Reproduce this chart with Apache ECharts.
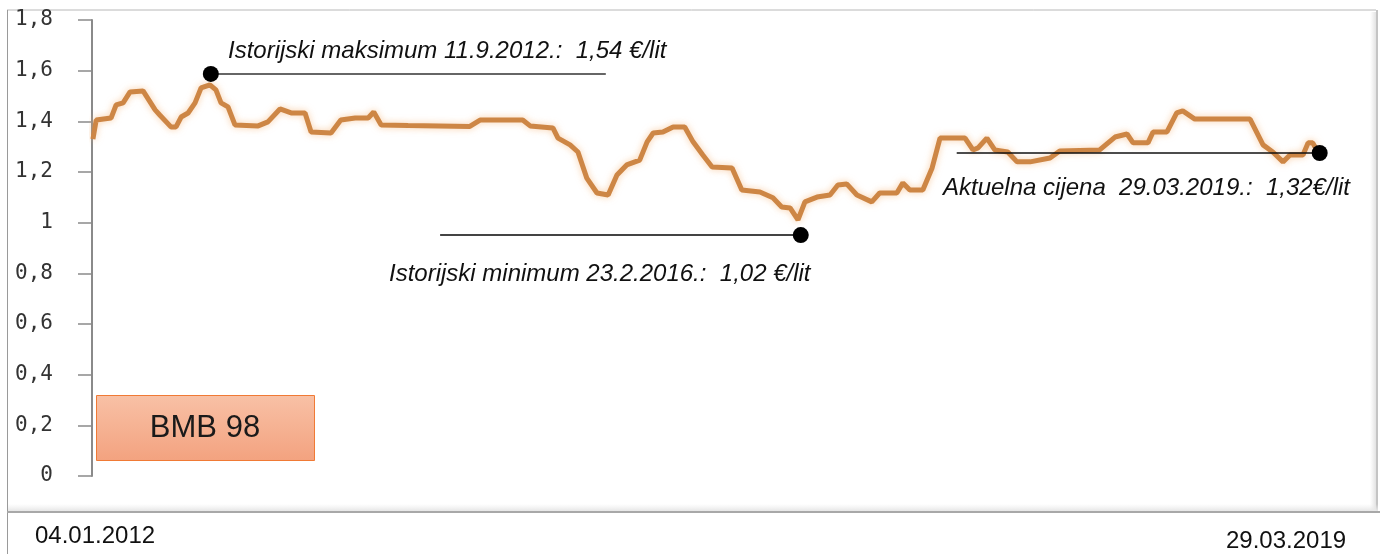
<!DOCTYPE html>
<html>
<head>
<meta charset="utf-8">
<script src="https://cdn.jsdelivr.net/npm/echarts@6/dist/echarts.min.js"></script>
<style>
html,body{margin:0;padding:0;background:#fff;}
#chart{width:1380px;height:554px;}
</style>
</head>
<body>
<div id="chart"></div>
<script>
// Days since 04.01.2012
const days = [2, 9, 41, 52, 67, 82, 110, 136, 146, 170, 181, 192, 207, 222, 235, 254, 267, 278, 293, 308,
  358, 379, 405, 429, 459, 472, 515, 536, 567, 595, 607, 623, 681, 814, 836, 928, 944, 993, 1004, 1030,
  1047, 1066, 1088, 1112, 1131, 1152, 1180, 1196, 1209, 1230, 1252, 1277, 1295, 1316, 1336, 1379, 1400, 1439, 1467, 1486,
  1504, 1521, 1536, 1562, 1590, 1607, 1626, 1648, 1680, 1697, 1734, 1747, 1762, 1790, 1810, 1827, 1881, 1898, 1909, 1928,
  1945, 1973, 1993, 2021, 2064, 2085, 2171, 2204, 2230, 2243, 2275, 2286, 2316, 2337, 2350, 2376, 2495, 2523, 2544, 2566,
  2581, 2609, 2620, 2630, 2641];
// BMB 98 price, EUR/lit
const prices = [1.33, 1.405, 1.413, 1.465, 1.473, 1.516, 1.52, 1.445, 1.425, 1.378, 1.378, 1.417, 1.433, 1.473, 1.532, 1.544, 1.524, 1.473, 1.457, 1.386,
  1.382, 1.398, 1.449, 1.433, 1.433, 1.358, 1.354, 1.405, 1.413, 1.413, 1.437, 1.386, 1.384, 1.38, 1.405, 1.405, 1.382, 1.374, 1.334, 1.307,
  1.279, 1.176, 1.117, 1.109, 1.188, 1.228, 1.247, 1.319, 1.354, 1.358, 1.378, 1.378, 1.319, 1.267, 1.22, 1.216, 1.129, 1.121, 1.098, 1.062,
  1.058, 1.011, 1.082, 1.101, 1.109, 1.149, 1.153, 1.109, 1.082, 1.117, 1.117, 1.157, 1.129, 1.129, 1.216, 1.334, 1.334, 1.287, 1.295, 1.334,
  1.287, 1.279, 1.24, 1.24, 1.255, 1.283, 1.287, 1.338, 1.35, 1.315, 1.315, 1.358, 1.358, 1.433, 1.441, 1.409, 1.409, 1.307, 1.279, 1.24,
  1.267, 1.267, 1.315, 1.315, 1.279];
const yTicks = [0, 0.2, 0.4, 0.6, 0.8, 1, 1.2, 1.4, 1.6, 1.8];

// Annotation markers (day, value) and leader lines
const maxDot = [256, 1.587];
const minDot = [1527, 0.951];
const curDot = [2645, 1.275];
const maxLeader = [[256, 1.587], [1107, 1.587]];
const minLeader = [[750, 0.951], [1527, 0.951]];
const curLeader = [[1863, 1.275], [2645, 1.275]];

const maxText = 'Istorijski maksimum 11.9.2012.:  1,54 €/lit';
const minText = 'Istorijski minimum 23.2.2016.:  1,02 €/lit';
const curText = 'Aktuelna cijena  29.03.2019.:  1,32€/lit';
const startLabel = '04.01.2012';
const endLabel = '29.03.2019';
const boxLabel = 'BMB 98';

const chart = echarts.init(document.getElementById('chart'));
const leaderSeries = (data, color, w) => ({
  type: 'line', data: data, showSymbol: false, silent: true, z: 3,
  lineStyle: {color: color, width: w}
});
chart.setOption({
  animation: false,
  backgroundColor: '#fff',
  grid: {left: 92, right: 58, top: 20, bottom: 78},
  xAxis: {
    type: 'value', min: 0, max: 2650,
    axisLine: {show: false}, axisTick: {show: false}, axisLabel: {show: false}, splitLine: {show: false}
  },
  yAxis: {
    type: 'value', min: 0, max: 1.8, interval: 0.2, offset: 3,
    axisLine: {show: true, lineStyle: {color: '#8a8a8a', width: 2}},
    axisTick: {show: true, length: 14, lineStyle: {color: '#8a8a8a', width: 1.5}},
    splitLine: {show: false},
    axisLabel: {
      margin: 36, color: '#333', fontFamily: 'DejaVu Sans Mono', fontSize: 21,
      formatter: v => String(Number(v.toFixed(1))).replace('.', ',')
    }
  },
  series: [
    {
      type: 'line', data: days.map((d, i) => [d, prices[i]]), showSymbol: false, z: 2,
      lineStyle: {color: '#cd8645', width: 5, shadowColor: 'rgba(245,175,110,0.6)', shadowBlur: 7}
    },
    leaderSeries(maxLeader, '#333', 1.5),
    leaderSeries(minLeader, '#444', 2),
    leaderSeries(curLeader, '#111', 1.5),
    {
      type: 'scatter', data: [maxDot, minDot, curDot], symbolSize: 16, z: 5,
      itemStyle: {color: '#000', opacity: 1}
    }
  ],
  graphic: [
    // outer frame
    {type: 'line', shape: {x1: 7, y1: 10, x2: 1376, y2: 10}, style: {stroke: '#b8b8b8', lineWidth: 1}},
    {type: 'line', shape: {x1: 7.5, y1: 10, x2: 7.5, y2: 554}, style: {stroke: '#9a9a9a', lineWidth: 1}},
    {type: 'rect', shape: {x: 1370, y: 12, width: 6, height: 498},
     style: {fill: new echarts.graphic.LinearGradient(0, 0, 1, 0, [{offset: 0, color: 'rgba(230,230,230,0)'}, {offset: 1, color: '#e2e2e2'}])}},
    {type: 'line', shape: {x1: 1377, y1: 10, x2: 1377, y2: 512}, style: {stroke: '#c4c4c4', lineWidth: 2}},
    {type: 'rect', shape: {x: 8, y: 504, width: 1370, height: 7},
     style: {fill: new echarts.graphic.LinearGradient(0, 0, 0, 1, [{offset: 0, color: 'rgba(235,235,235,0)'}, {offset: 1, color: '#e6e6e6'}])}},
    {type: 'line', shape: {x1: 7, y1: 512, x2: 1380, y2: 512}, style: {stroke: '#a8a8a8', lineWidth: 2}},
    // BMB 98 box
    {type: 'rect', shape: {x: 96.5, y: 395.5, width: 218, height: 65}, z: 10,
     style: {fill: new echarts.graphic.LinearGradient(0, 0, 0, 1, [{offset: 0, color: '#f8c1a6'}, {offset: 1, color: '#f3a27f'}]),
       stroke: '#f07a35', lineWidth: 1}},
    {type: 'text', x: 205, y: 428, z: 11,
     style: {text: boxLabel, fill: '#1a1a1a', font: '31px "Liberation Sans", Arial, sans-serif', align: 'center', verticalAlign: 'middle'}},
    // annotation texts
    {type: 'text', x: 228, y: 51, z: 11,
     style: {text: maxText, fill: '#111', font: 'italic 24px "Liberation Sans", Arial, sans-serif', verticalAlign: 'middle'}},
    {type: 'text', x: 389, y: 274, z: 11,
     style: {text: minText, fill: '#111', font: 'italic 24px "Liberation Sans", Arial, sans-serif', verticalAlign: 'middle'}},
    {type: 'text', x: 943, y: 188, z: 11,
     style: {text: curText, fill: '#111', font: 'italic 24px "Liberation Sans", Arial, sans-serif', verticalAlign: 'middle'}},
    // date labels below
    {type: 'text', x: 35, y: 536, z: 11,
     style: {text: startLabel, fill: '#111', font: '24px "Liberation Sans", Arial, sans-serif', verticalAlign: 'middle'}},
    {type: 'text', x: 1226, y: 541, z: 11,
     style: {text: endLabel, fill: '#111', font: '24px "Liberation Sans", Arial, sans-serif', verticalAlign: 'middle'}}
  ]
});
</script>
</body>
</html>
